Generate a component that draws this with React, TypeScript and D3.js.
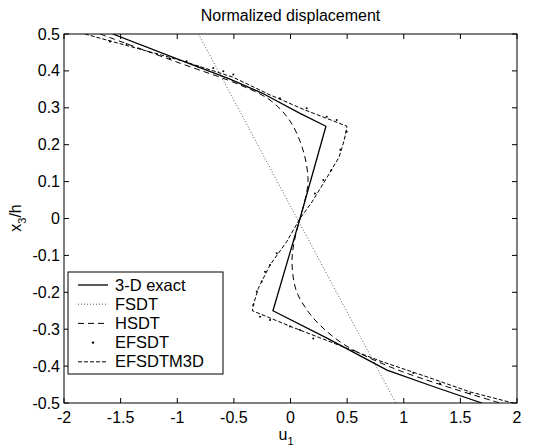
import React from 'react';
import * as d3 from 'd3';

const xTicks = [-2, -1.5, -1, -0.5, 0, 0.5, 1, 1.5, 2];
const yTicks = [-0.5, -0.4, -0.3, -0.2, -0.1, 0, 0.1, 0.2, 0.3, 0.4, 0.5];
const yTickLabels = ['-0.5', '-0.4', '-0.3', '-0.2', '-0.1', '0', '0.1', '0.2', '0.3', '0.4', '0.5'];
const xTickLabels = ['-2', '-1.5', '-1', '-0.5', '0', '0.5', '1', '1.5', '2'];
const legendLabels = ['3-D exact', 'FSDT', 'HSDT', 'EFSDT', 'EFSDTM3D'];

// [u1, x3/h]
const exact3D: [number, number][] = [
  [-1.57, 0.5], [-0.887, 0.419], [-0.55, 0.38], [-0.252, 0.34], [0.084, 0.285], [0.313, 0.25],
  [0.084, 0], [-0.155, -0.25], [0.322, -0.324], [0.852, -0.411], [1.285, -0.458], [1.69, -0.5],
];
const fsdt: [number, number][] = [
  [-0.813, 0.5], [0.93, -0.5],
];
const hsdt: [number, number][] = [
  [-1.682, 0.5], [-0.976, 0.421], [-0.446, 0.362], [-0.181, 0.321], [-0.004, 0.264], [0.11, 0.186],
  [0.155, 0.104], [0.128, 0.05], [0.084, 0], [0.04, -0.053], [0.013, -0.112], [0.049, -0.194],
  [0.146, -0.248], [0.26, -0.289], [0.481, -0.343], [0.879, -0.402], [1.364, -0.454], [1.85, -0.5],
];
const efsdt: [number, number][] = [
  [-1.594, 0.48], [-1.446, 0.473], [-1.181, 0.446], [-1.064, 0.433], [-0.917, 0.426], [-0.817, 0.412],
  [-0.682, 0.408], [-0.593, 0.399], [-0.505, 0.39], [-0.093, 0.326], [0.143, 0.299], [0.32, 0.276],
  [0.408, 0.267], [0.496, 0.235], [0.44, 0.186], [0.36, 0.131], [0.29, 0.104], [0.216, 0.068],
  [-0.122, -0.094], [-0.181, -0.126], [-0.225, -0.144], [-0.254, -0.171], [-0.298, -0.198], [-0.328, -0.234],
  [-0.269, -0.266], [-0.181, -0.275], [-0.004, -0.293], [0.084, -0.302], [0.201, -0.325],
  [1.084, -0.419], [1.32, -0.447], [1.585, -0.474],
];
const efsdtm3d: [number, number][] = [
  [-1.815, 0.5], [-0.976, 0.429], [-0.508, 0.383], [-0.181, 0.335], [0.128, 0.294], [0.499, 0.25],
  [0.475, 0.213], [0.43, 0.167], [0.32, 0.11], [0.19, 0.045], [0.084, 0], [-0.034, -0.063],
  [-0.181, -0.126], [-0.284, -0.189], [-0.328, -0.234], [-0.337, -0.25], [0.013, -0.294], [0.375, -0.337],
  [0.79, -0.386], [1.232, -0.432], [1.585, -0.47], [1.965, -0.5],
];

const FONT = '"Liberation Sans", Arial, Helvetica, sans-serif';

export default function App() {
  const W = 539, H = 448;
  const x = d3.scaleLinear().domain([-2, 2]).range([64, 517]);
  const y = d3.scaleLinear().domain([-0.5, 0.5]).range([403, 34]);
  const lin = d3.line<[number, number]>().x(d => x(d[0])).y(d => y(d[1]));
  const smooth = d3.line<[number, number]>().x(d => x(d[0])).y(d => y(d[1])).curve(d3.curveCatmullRom);
  const [x0, x1] = x.range();
  const [yb, yt] = y.range();
  const tl = 5;
  const legY = (i: number) => 285 + i * 19.2;

  return (
    <svg width={W} height={H} style={{ position: 'absolute', left: 0, top: 0, background: '#fff' }} fontFamily={FONT}>
      <defs>
        <clipPath id="plot">
          <rect x={x0} y={yt} width={x1 - x0} height={yb - yt} />
        </clipPath>
      </defs>
      <rect x={0} y={0} width={W} height={H} fill="#fff" />
      <text x={290.5} y={21} textAnchor="middle" fontSize={16}>Normalized displacement</text>

      <g clipPath="url(#plot)" fill="none">
        <path d={lin(fsdt) || ''} stroke="#555" strokeWidth={1} strokeDasharray="1,2" />
        <path d={smooth(hsdt) || ''} stroke="#000" strokeWidth={1} strokeDasharray="6,4" />
        <path d={lin(efsdtm3d) || ''} stroke="#000" strokeWidth={1} strokeDasharray="4,2" />
        <path d={lin(exact3D) || ''} stroke="#000" strokeWidth={1.3} />
        {efsdt.map((d, i) => (
          <circle key={i} cx={x(d[0])} cy={y(d[1])} r={1} fill="#000" />
        ))}
      </g>

      {/* axes box */}
      <rect x={x0} y={yt} width={x1 - x0} height={yb - yt} fill="none" stroke="#000" strokeWidth={1} />
      {xTicks.map((t, i) => (
        <g key={'x' + i}>
          <line x1={x(t)} x2={x(t)} y1={yb} y2={yb - tl} stroke="#000" />
          <line x1={x(t)} x2={x(t)} y1={yt} y2={yt + tl} stroke="#000" />
          <text x={x(t)} y={423} textAnchor="middle" fontSize={16}>{xTickLabels[i]}</text>
        </g>
      ))}
      {yTicks.map((t, i) => (
        <g key={'y' + i}>
          <line x1={x0} x2={x0 + tl} y1={y(t)} y2={y(t)} stroke="#000" />
          <line x1={x1} x2={x1 - tl} y1={y(t)} y2={y(t)} stroke="#000" />
          <text x={60} y={y(t) + 5.5} textAnchor="end" fontSize={16}>{yTickLabels[i]}</text>
        </g>
      ))}

      <text x={286} y={440} textAnchor="middle" fontSize={16}>
        u<tspan fontSize={11} dy={5}>1</tspan>
      </text>
      <text transform="translate(21,218) rotate(-90)" textAnchor="middle" fontSize={16}>
        x<tspan fontSize={11} dy={5}>3</tspan><tspan dy={-5}>/h</tspan>
      </text>

      {/* legend */}
      <rect x={68} y={272} width={155} height={102} fill="#fff" stroke="#000" strokeWidth={1} />
      {legendLabels.map((lab, i) => {
        const ly = legY(i);
        let sample: React.ReactNode = null;
        if (i === 0) sample = <line x1={78} x2={108} y1={ly} y2={ly} stroke="#000" strokeWidth={1.3} />;
        if (i === 1) sample = <line x1={78} x2={108} y1={ly} y2={ly} stroke="#555" strokeDasharray="1,2" />;
        if (i === 2) sample = <line x1={78} x2={108} y1={ly} y2={ly} stroke="#000" strokeDasharray="6,4" />;
        if (i === 3) sample = <circle cx={93} cy={ly} r={1.2} fill="#000" />;
        if (i === 4) sample = <line x1={78} x2={108} y1={ly} y2={ly} stroke="#000" strokeDasharray="4,2" />;
        return (
          <g key={lab}>
            {sample}
            <text x={115} y={ly + 5.5} fontSize={16.5}>{lab}</text>
          </g>
        );
      })}
    </svg>
  );
}
